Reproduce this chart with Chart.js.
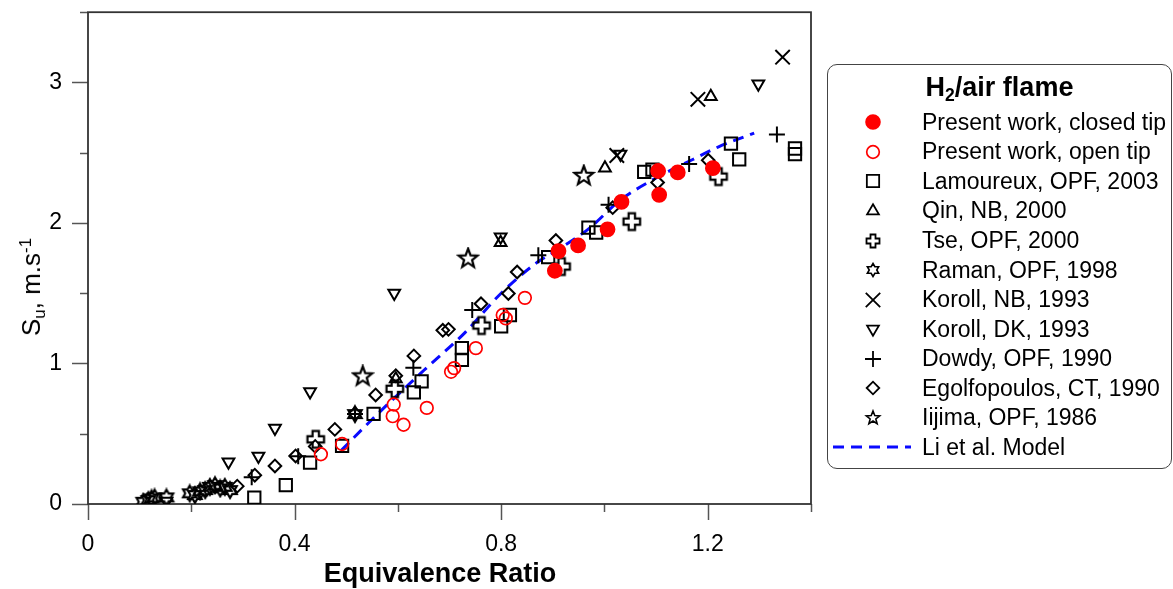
<!DOCTYPE html>
<html>
<head>
<meta charset="utf-8">
<script src="https://cdn.jsdelivr.net/npm/chart.js@4"></script>
<style>
  body { margin: 0; background: #fff; font-family: "Liberation Sans", Arial, sans-serif; color: #000; }
  #wrap { position: relative; width: 1173px; height: 589px; }
  #legendBox { position: absolute; left: 827px; top: 64px; width: 345px; height: 405px; box-sizing: border-box;
               border: 1.5px solid #444; border-radius: 10px; }
  .lg-title { position: absolute; left: 827px; width: 345px; text-align: center; font-weight: bold; font-size: 27px; line-height: 32px; }
  .lg-text { position: absolute; left: 922px; font-size: 23px; line-height: 29px; white-space: nowrap; }
  .lg-mark { position: absolute; }
  sub { font-size: 65%; vertical-align: -0.3em; line-height: 0; }
  sup { font-size: 65%; vertical-align: 0.55em; line-height: 0; }
  #xTitle { position: absolute; left: 240px; width: 400px; top: 557px; text-align: center; font-weight: bold; font-size: 27px; line-height: 32px; }
  #yTitle { position: absolute; left: 31px; top: 287px; transform: translate(-50%, -50%) rotate(-90deg); font-size: 26px; line-height: 30px; white-space: nowrap; }
</style>
</head>
<body>
<div id="wrap">
  <canvas id="chart" width="1173" height="589"></canvas>
  <div id="legendBox"></div>
  <div id="xTitle">Equivalence Ratio</div>
  <div id="yTitle">S<sub>u</sub>, m.s<sup>-1</sup></div>
</div>
<script>
// axis ticks
const xTickValues = [0, 0.2, 0.4, 0.6, 0.8, 1.0, 1.2, 1.4];
const xTickLabels = ['0', '', '0.4', '', '0.8', '', '1.2', ''];
const yTickValues = [0, 0.5, 1, 1.5, 2, 2.5, 3, 3.5];
const yTickLabels = ['0', '', '1', '', '2', '', '3', ''];

// [equivalence ratio, Su]
const closedTip = [[0.904, 1.66], [0.911, 1.80], [0.949, 1.84], [1.006, 1.955], [1.033, 2.15],
  [1.106, 2.20], [1.104, 2.37], [1.142, 2.36], [1.210, 2.39]];
const openTip = [[0.451, 0.354], [0.492, 0.427], [0.592, 0.708], [0.590, 0.625], [0.611, 0.564],
  [0.656, 0.684], [0.703, 0.941], [0.709, 0.967], [0.751, 1.109], [0.803, 1.345], [0.809, 1.321], [0.846, 1.467]];
const lamoureux = [[0.322, 0.045], [0.383, 0.134], [0.430, 0.295], [0.492, 0.413], [0.553, 0.642],
  [0.631, 0.795], [0.646, 0.873], [0.724, 1.109], [0.724, 1.026], [0.800, 1.265], [0.817, 1.345],
  [0.891, 1.757], [0.969, 1.967], [0.984, 1.932], [1.077, 2.364], [1.093, 2.380], [1.245, 2.564],
  [1.261, 2.453], [1.369, 2.53], [1.369, 2.49]];
const qin = [[0.596, 0.89], [0.799, 1.86], [1.001, 2.39], [1.206, 2.90]];
const tse = [[0.441, 0.46], [0.594, 0.82], [0.762, 1.27], [0.917, 1.69], [1.053, 2.01], [1.221, 2.33]];
const raman = [[0.107, 0.016], [0.117, 0.028], [0.123, 0.04], [0.129, 0.047], [0.152, 0.047],
  [0.197, 0.076], [0.207, 0.064], [0.217, 0.09], [0.227, 0.099], [0.236, 0.122], [0.246, 0.134],
  [0.256, 0.111], [0.265, 0.122], [0.275, 0.099], [0.517, 0.64]];
const korollNB = [[1.024, 2.48], [1.181, 2.88], [1.345, 3.18]];
const korollDK = [[0.152, 0.02], [0.272, 0.30], [0.330, 0.34], [0.362, 0.54], [0.430, 0.80],
  [0.593, 1.50], [0.799, 1.90], [1.031, 2.49], [1.298, 2.99]];
const dowdy = [[0.317, 0.19], [0.407, 0.34], [0.517, 0.64], [0.630, 0.97], [0.744, 1.38],
  [0.872, 1.77], [1.008, 2.13], [1.164, 2.42], [1.334, 2.63]];
const egolf = [[0.289, 0.127], [0.323, 0.205], [0.362, 0.271], [0.402, 0.342], [0.440, 0.41],
  [0.478, 0.531], [0.517, 0.643], [0.557, 0.776], [0.596, 0.913], [0.631, 1.054], [0.687, 1.236],
  [0.698, 1.243], [0.761, 1.425], [0.814, 1.498], [0.831, 1.651], [0.906, 1.875], [1.016, 2.109],
  [1.103, 2.288], [1.201, 2.446]];
const iijima = [[0.532, 0.908], [0.736, 1.746], [0.960, 2.335]];

// Li et al. model curve
const liModelX = [0.49, 0.555, 0.65, 0.73, 0.80, 0.87, 0.91, 0.97, 1.03, 1.10, 1.17, 1.22, 1.29];
const liModelY = [0.38, 0.62, 0.95, 1.22, 1.50, 1.72, 1.81, 1.96, 2.16, 2.32, 2.45, 2.54, 2.64];

const FONT = '"Liberation Sans", Arial, sans-serif';

// custom marker shapes
function makeMarker(size, lw, draw) {
  const c = document.createElement('canvas');
  c.width = size; c.height = size;
  const g = c.getContext('2d');
  g.strokeStyle = '#000';
  g.lineWidth = lw;
  draw(g, size / 2);
  return c;
}
function starPath(g, c, n, ro, ri) {
  g.beginPath();
  for (let i = 0; i < 2 * n; i++) {
    const r = i % 2 ? ri : ro;
    const a = -Math.PI / 2 + i * Math.PI / n;
    const px = c + r * Math.cos(a), py = c + r * Math.sin(a);
    if (i) g.lineTo(px, py); else g.moveTo(px, py);
  }
  g.closePath();
  g.stroke();
}
function plusPath(g, c, r, w) {
  g.beginPath();
  g.moveTo(c - w, c - r); g.lineTo(c + w, c - r); g.lineTo(c + w, c - w); g.lineTo(c + r, c - w);
  g.lineTo(c + r, c + w); g.lineTo(c + w, c + w); g.lineTo(c + w, c + r); g.lineTo(c - w, c + r);
  g.lineTo(c - w, c + w); g.lineTo(c - r, c + w); g.lineTo(c - r, c - w); g.lineTo(c - w, c - w);
  g.closePath();
  g.stroke();
}
const tseMarker = makeMarker(22, 2.2, (g, c) => plusPath(g, c, 8.3, 3.2));
const tseLegend = makeMarker(18, 1.8, (g, c) => plusPath(g, c, 6.5, 2.5));
const ramanMarker = makeMarker(20, 2.1, (g, c) => starPath(g, c, 6, 7.8, 4.5));
const ramanLegend = makeMarker(16, 1.6, (g, c) => starPath(g, c, 6, 6.5, 3.75));
const iijimaMarker = makeMarker(24, 2.2, (g, c) => starPath(g, c, 5, 10, 4.2));
const iijimaLegend = makeMarker(18, 1.6, (g, c) => starPath(g, c, 5, 7, 3));

const series = [
  { label: 'Present work, closed tip', data: closedTip, style: 'circle', radius: 6.9, fill: '#ff0000', color: '#ff0000' },
  { label: 'Present work, open tip', data: openTip, style: 'circle', radius: 6.3, color: '#ff0000', width: 1.7 },
  { label: 'Lamoureux, OPF, 2003', data: lamoureux, style: 'rect', radius: 8.7 },
  { label: 'Qin, NB, 2000', data: qin, style: 'triangle', radius: 6.8 },
  { label: 'Tse, OPF, 2000', data: tse, style: tseMarker, legendStyle: tseLegend, radius: 8 },
  { label: 'Raman, OPF, 1998', data: raman, style: ramanMarker, legendStyle: ramanLegend, radius: 8 },
  { label: 'Koroll, NB, 1993', data: korollNB, style: 'crossRot', radius: 10.2 },
  { label: 'Koroll, DK, 1993', data: korollDK, style: 'triangle', rotation: 180, radius: 6.8 },
  { label: 'Dowdy, OPF, 1990', data: dowdy, style: 'cross', radius: 8 },
  { label: 'Egolfopoulos, CT, 1990', data: egolf, style: 'rectRot', radius: 6.3 },
  { label: 'Iijima, OPF, 1986', data: iijima, style: iijimaMarker, legendStyle: iijimaLegend, radius: 8 }
];

const datasets = series.map(s => ({
  label: s.label,
  data: s.data.map(p => ({ x: p[0], y: p[1] })),
  pointStyle: s.style,
  pointRotation: s.rotation || 0,
  pointRadius: s.radius,
  pointBackgroundColor: s.fill || 'rgba(0,0,0,0)',
  pointBorderColor: s.color || '#000',
  pointBorderWidth: s.width || 2
}));
datasets.push({
  label: 'Li et al. Model',
  data: liModelX.map((x, i) => ({ x: x, y: liModelY[i] })),
  showLine: true,
  borderColor: '#0a0aff',
  borderWidth: 3,
  borderDash: [11, 7],
  pointRadius: 0,
  tension: 0.4,
  cubicInterpolationMode: 'monotone',
  fill: false
});

// box frame and outward tick marks
const frameTicks = {
  id: 'frameTicks',
  beforeDatasetsDraw(chart) {
    const { ctx, chartArea: a, scales: { x, y } } = chart;
    ctx.save();
    ctx.strokeStyle = '#555';
    ctx.lineWidth = 1.5;
    xTickValues.forEach((v, i) => {
      const px = Math.round(x.getPixelForValue(v)) + 0.5;
      ctx.beginPath();
      ctx.moveTo(px, a.bottom);
      ctx.lineTo(px, a.bottom + (xTickLabels[i] ? 16 : 8));
      ctx.stroke();
    });
    yTickValues.forEach((v, i) => {
      const py = Math.round(y.getPixelForValue(v)) + 0.5;
      ctx.beginPath();
      ctx.moveTo(a.left, py);
      ctx.lineTo(a.left - (yTickLabels[i] ? 16 : 8), py);
      ctx.stroke();
    });
    ctx.strokeStyle = '#333';
    ctx.lineWidth = 1.8;
    ctx.strokeRect(a.left, a.top, a.right - a.left, a.bottom - a.top);
    ctx.restore();
  }
};

new Chart(document.getElementById('chart'), {
  type: 'scatter',
  data: { datasets: datasets },
  plugins: [frameTicks],
  options: {
    responsive: false,
    animation: false,
    layout: { padding: { top: 9, right: 362, left: 0, bottom: 0 } },
    plugins: { legend: { display: false }, tooltip: { enabled: false } },
    scales: {
      x: {
        type: 'linear', min: 0, max: 1.4,
        afterBuildTicks: s => { s.ticks = xTickValues.map(v => ({ value: v })); },
        afterFit: s => { s.height = 85; s.paddingLeft = 0; s.paddingRight = 0; },
        grid: { display: false, drawTicks: false },
        border: { display: false },
        ticks: {
          autoSkip: false, maxRotation: 0, padding: 27, color: '#000',
          font: { size: 23, family: FONT },
          callback: (v, i) => xTickLabels[i]
        }
      },
      y: {
        type: 'linear', min: 0, max: 3.5,
        afterBuildTicks: s => { s.ticks = yTickValues.map(v => ({ value: v })); },
        afterFit: s => { s.width = 88; s.paddingTop = 0; s.paddingBottom = 0; },
        grid: { display: false, drawTicks: false },
        border: { display: false },
        ticks: {
          autoSkip: false, padding: 26, color: '#000',
          font: { size: 23, family: FONT },
          callback: (v, i) => yTickLabels[i]
        }
      }
    }
  }
});

// legend built from the same series
const wrap = document.getElementById('wrap');
const title = document.createElement('div');
title.className = 'lg-title';
title.style.top = '71px';
title.innerHTML = 'H<sub>2</sub>/air flame';
wrap.appendChild(title);

const legendItems = series.concat([{ label: 'Li et al. Model', line: true }]);
legendItems.forEach((s, i) => {
  const cy = 122.3 + i * 29.55;
  const mark = document.createElement('canvas');
  mark.className = 'lg-mark';
  const g = mark.getContext('2d');
  if (s.line) {
    mark.width = 80; mark.height = 8;
    mark.style.left = '833px';
    mark.style.top = (cy - 4) + 'px';
    g.strokeStyle = '#0a0aff';
    g.lineWidth = 3;
    g.setLineDash([11, 7]);
    g.beginPath(); g.moveTo(0, 4); g.lineTo(78, 4); g.stroke();
  } else {
    mark.width = 40; mark.height = 26;
    mark.style.left = '853px';
    mark.style.top = (cy - 13) + 'px';
    g.fillStyle = s.fill || 'rgba(0,0,0,0)';
    g.strokeStyle = s.color || '#000';
    g.lineWidth = s.width || 1.8;
    Chart.helpers.drawPoint(g, { pointStyle: s.legendStyle || s.style, rotation: s.rotation || 0,
      radius: s.radius, borderWidth: s.width || 1.8 }, 20, 13);
  }
  wrap.appendChild(mark);
  const t = document.createElement('div');
  t.className = 'lg-text';
  t.style.top = (cy - 14.5) + 'px';
  t.textContent = s.label;
  wrap.appendChild(t);
});
</script>
</body>
</html>
